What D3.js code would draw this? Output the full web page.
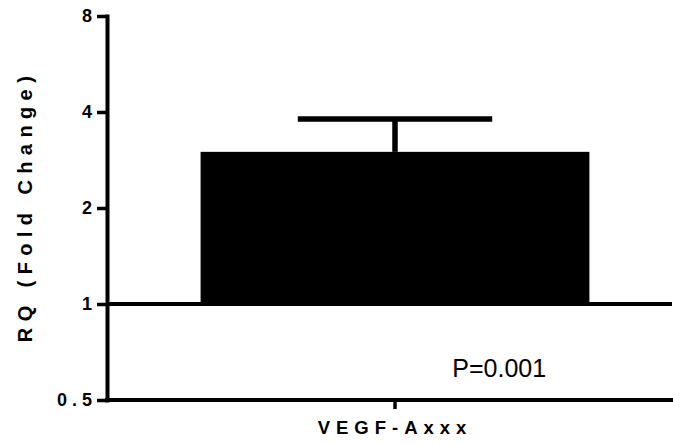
<!DOCTYPE html>
<html>
<head>
<meta charset="utf-8">
<script src="https://cdn.jsdelivr.net/npm/d3@7"></script>
<style>
  html, body { margin: 0; padding: 0; background: #fff; }
  svg { display: block; font-family: "Liberation Sans", Arial, Helvetica, sans-serif; }
</style>
</head>
<body>
<svg id="chart" width="673" height="445"></svg>
<script>
// Relative quantification of VEGF-Axxx expression (fold change, log2 axis)
const categories = ["VEGF-Axxx"];
const foldChange = [3.0];
const errorUpper = [3.8];
const yTicks = [0.5, 1, 2, 4, 8];
const baseline = 1;
const pValueLabel = "P=0.001";
const yTitle = "RQ (Fold Change)";

const width = 673, height = 445;
const margin = { top: 16, right: 0, bottom: 45, left: 107 };
const plotRight = 672;

const svg = d3.select("#chart");

const y = d3.scaleLog().base(2)
  .domain([0.5, 8])
  .range([height - margin.bottom, margin.top]);

const x = d3.scaleBand()
  .domain(categories)
  .range([margin.left, 683])
  .padding(0.194);

const rows = categories.map((c, i) => ({ cat: c, value: foldChange[i], hi: errorUpper[i] }));

// bars grow up from the baseline of 1
svg.append("g").selectAll("rect")
  .data(rows)
  .join("rect")
  .attr("x", d => x(d.cat))
  .attr("width", x.bandwidth())
  .attr("y", d => y(d.value))
  .attr("height", d => y(baseline) - y(d.value))
  .attr("fill", "#000");

// upper error bars
const err = svg.append("g").attr("stroke", "#000").attr("stroke-width", 5.5);
err.selectAll("line.stem")
  .data(rows)
  .join("line")
  .attr("class", "stem")
  .attr("x1", d => x(d.cat) + x.bandwidth() / 2)
  .attr("x2", d => x(d.cat) + x.bandwidth() / 2)
  .attr("y1", d => y(d.value))
  .attr("y2", d => y(d.hi));
err.selectAll("line.cap")
  .data(rows)
  .join("line")
  .attr("class", "cap")
  .attr("x1", d => x(d.cat) + x.bandwidth() * 0.25)
  .attr("x2", d => x(d.cat) + x.bandwidth() * 0.75)
  .attr("y1", d => y(d.hi))
  .attr("y2", d => y(d.hi));

// reference line at fold change = 1
svg.append("line")
  .attr("x1", margin.left).attr("x2", plotRight)
  .attr("y1", y(baseline)).attr("y2", y(baseline))
  .attr("stroke", "#000").attr("stroke-width", 4);

// y axis
const yAxis = svg.append("g")
  .attr("transform", `translate(${margin.left},0)`)
  .call(d3.axisLeft(y)
    .tickValues(yTicks)
    .tickFormat(d => String(d))
    .tickSize(10)
    .tickSizeOuter(0)
    .tickPadding(0));
yAxis.select(".domain").attr("stroke-width", 4).attr("stroke-linecap", "square");
yAxis.selectAll(".tick line").attr("stroke-width", 3.5);
yAxis.selectAll(".tick text")
  .style("font-size", "18px")
  .style("font-weight", "bold")
  .attr("letter-spacing", 5)
  .attr("font-family", "'Liberation Sans', Arial, sans-serif")
  .attr("fill", "#000");

// x axis
const xAxis = svg.append("g")
  .attr("transform", `translate(0,${y(0.5)})`)
  .call(d3.axisBottom(x).tickSize(9).tickSizeOuter(0).tickPadding(12));
xAxis.select(".domain").remove();
xAxis.append("line")
  .attr("x1", margin.left).attr("x2", plotRight)
  .attr("y1", 0).attr("y2", 0)
  .attr("stroke", "#000").attr("stroke-width", 4).attr("stroke-linecap", "square");
xAxis.selectAll(".tick line").attr("stroke-width", 3.5);
xAxis.selectAll(".tick text")
  .style("font-size", "18.5px")
  .style("font-weight", "bold")
  .attr("letter-spacing", 6)
  .attr("font-family", "'Liberation Sans', Arial, sans-serif")
  .attr("fill", "#000");

// y axis title
svg.append("text")
  .attr("transform", `translate(32,${(y(0.5) + y(8)) / 2 - 2}) rotate(-90)`)
  .attr("text-anchor", "middle")
  .attr("font-size", 20)
  .attr("font-weight", "bold")
  .attr("letter-spacing", 6.4)
  .attr("fill", "#000")
  .text(yTitle);

// significance annotation
svg.append("text")
  .attr("x", x(categories[0]) + x.bandwidth() * 0.768)
  .attr("y", y(0.5) - 23)
  .attr("text-anchor", "middle")
  .attr("font-size", 25)
  .attr("fill", "#000")
  .text(pValueLabel);
</script>
</body>
</html>
